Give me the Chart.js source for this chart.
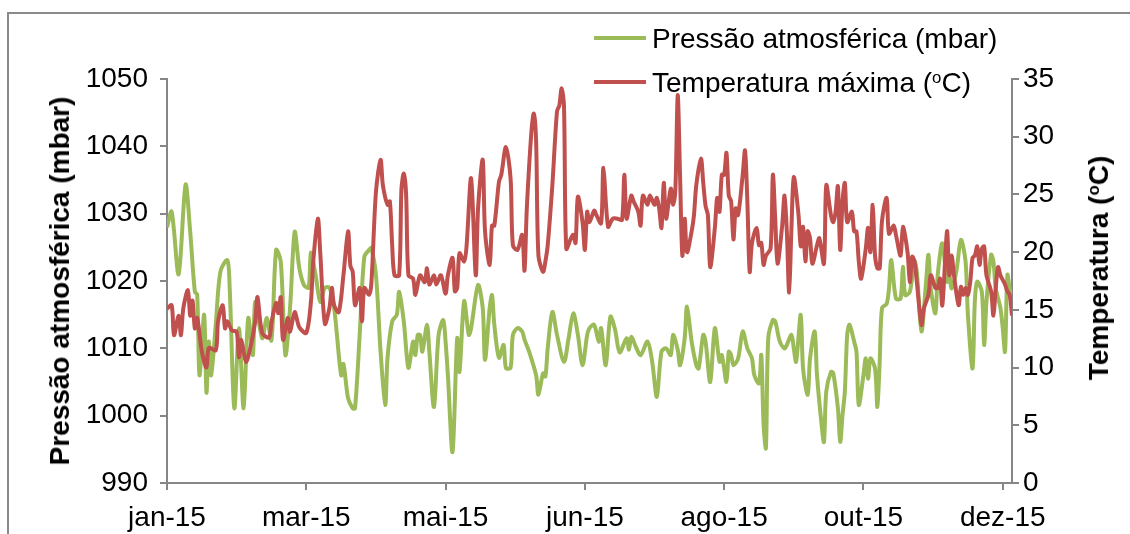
<!DOCTYPE html>
<html>
<head>
<meta charset="utf-8">
<script src="https://cdn.jsdelivr.net/npm/chart.js@4.4.1/dist/chart.umd.min.js"></script>
<style>
  html, body { margin: 0; padding: 0; background: #ffffff; }
  #wrap { position: relative; width: 1130px; height: 534px; overflow: hidden; font-family: "Liberation Sans", Arial, sans-serif; }
  #frame { position: absolute; left: 7px; top: 12px; width: 1140px; height: 600px; border: 2px solid #8a8a8a; box-sizing: border-box; }
  canvas { position: absolute; left: 0; top: 0; }
  .lg-line { position: absolute; height: 4px; width: 52px; left: 594px; }
  .lg-text { position: absolute; left: 652px; font-size: 28px; line-height: 28px; color: #000; white-space: nowrap; }
  .ax-title { position: absolute; font-size: 28px; font-weight: bold; line-height: 28px; white-space: nowrap; color: #000;
              transform: translate(-50%, -50%) rotate(-90deg); }
  sup { font-size: 60%; vertical-align: 0; position: relative; top: -0.55em; }
</style>
</head>
<body>
<div id="wrap">
  <div id="frame"></div>
  <canvas id="c" width="1130" height="534"></canvas>
  <div class="lg-line" style="top:36px;background:#9BBB59"></div>
  <div class="lg-text" style="top:25px">Pressão atmosférica (mbar)</div>
  <div class="lg-line" style="top:80px;background:#C0504D"></div>
  <div class="lg-text" style="top:69px">Temperatura máxima (<sup>o</sup>C)</div>
  <div class="ax-title" style="left:60px;top:281px">Pressão atmosférica (mbar)</div>
  <div class="ax-title" style="left:1101px;top:268px">Temperatura (<sup>o</sup>C)</div>
</div>
<script>
// ---- Data (day of year 2015, 0 = 1 Jan) ----
const tickDays = [0, 60, 120, 180, 240, 300, 360];
const tickLabels = ["jan-15", "mar-15", "mai-15", "jun-15", "ago-15", "out-15", "dez-15"];

const pressureDays = [0,2,5,8,10,12,13,14,16,17,18,19,21,23,26,27,29,31,33,35,37,38,41,43,45,47,49,51,53,55,57,59,61,62,64,66,68,70,72,75,76,78,80,81,83,85,87,88,90,92,94,95,97,99,100,102,104,106,107,108,109,110,112,113,115,117,119,120,121,123,125,126,128,130,131,134,136,137,139,140,141,143,145,146,148,149,151,153,154,156,159,160,162,163,164,166,168,171,173,175,177,179,181,182,184,186,187,189,191,193,195,198,199,200,202,204,207,209,211,213,215,217,218,220,221,223,224,226,228,229,231,232,234,236,238,239,241,242,243,244,246,248,250,252,253,255,256,257,258,259,261,262,264,266,267,269,270,271,273,274,276,277,279,280,282,283,284,286,287,289,290,291,292,293,294,296,297,298,300,301,302,303,305,306,307,308,310,311,312,314,316,317,318,320,322,323,325,327,328,329,331,332,334,336,337,338,340,342,344,345,347,348,349,351,352,353,355,356,357,359,360,361,362,363,364];
const pressureValues = [1028,1030.3,1021,1034.3,1027.3,1018.4,1018,1006,1015,1003.4,1011,1006,1013.5,1021.4,1023.1,1019,1001.1,1013,1001.1,1014.5,1009,1016.9,1011.5,1014.5,1011.2,1024.6,1022.9,1009,1016,1027.3,1021.9,1019.4,1019,1024.2,1020.9,1016.9,1019,1019,1016,1006,1007.7,1002.6,1001.1,1001.1,1012,1023.6,1024.6,1024.9,1020.9,1009.5,1001.6,1008.6,1014,1015,1018.4,1014,1007.1,1011,1009,1012,1012,1009.5,1013.5,1009.5,1001.3,1012,1014.2,1011,1006,994.6,1011.5,1006.5,1017,1012,1013,1019.4,1016,1008.3,1016,1017.9,1013.5,1008.6,1010.5,1007.1,1007.1,1012,1013,1012.5,1011.3,1009.5,1006,1003.1,1006.3,1005.8,1010,1015.4,1012,1008,1011.5,1015.2,1012,1007.5,1012,1013,1013.5,1011,1013,1007.5,1014.7,1012.8,1009.4,1011.5,1009.8,1011.7,1010.2,1009,1011,1008,1002.8,1009.5,1010,1009,1012,1009.8,1007.5,1011.5,1016.2,1011,1007.5,1007,1012,1011,1005,1013,1008,1009,1005,1009.5,1009,1007.5,1008.5,1012.5,1010,1008.5,1006,1004.8,1009,998.6,995.2,1011.5,1014.2,1014,1011,1010,1010.5,1012,1010,1008,1015,1007,1003.1,1008.5,1012.5,1006,998.6,996.1,1003.6,1006.5,1006.3,1001.1,996.1,1000.1,1003.6,1012,1013.5,1011,1009.5,1001.6,1006,1008.5,1005.5,1008.5,1007,1001.3,1008,1016,1016.6,1018.9,1023.1,1017.4,1017.4,1022.1,1017.9,1018.4,1022.9,1021.4,1012.5,1019.9,1023.9,1018.9,1015.2,1020.9,1025.6,1019.9,1020.9,1018.9,1021.4,1026.1,1022.9,1015,1007,1017,1019.9,1018.4,1010.5,1016.9,1023.9,1022.9,1018.9,1016,1013,1009.5,1020.9,1018.9,1016.9];

const tempDays = [0,2,3,5,6,7,9,10,11,12,13,15,17,18,21,22,24,25,26,28,30,31,32,34,36,38,39,41,44,45,47,48,49,50,52,53,55,57,60,62,63,65,66,68,70,71,72,74,76,78,79,80,81,83,84,85,87,88,90,92,93,95,96,97,98,100,101,102,103,104,106,107,109,111,112,113,115,116,118,120,121,123,124,125,126,128,129,131,133,134,136,137,139,140,141,143,144,146,148,149,151,153,154,155,157,158,159,160,162,163,164,166,168,169,170,171,172,174,175,176,177,179,180,181,182,184,185,187,188,190,192,194,196,197,198,200,201,203,204,205,207,208,210,211,212,213,214,215,217,218,219,220,221,222,223,224,226,227,228,230,231,232,233,234,236,237,238,239,240,241,242,243,244,245,246,248,249,250,251,252,254,255,256,257,258,260,261,262,263,265,266,267,268,269,270,272,273,274,275,276,277,278,280,281,283,284,286,287,288,289,290,291,292,293,295,296,297,298,299,301,302,303,304,305,306,307,308,310,311,313,314,316,317,319,320,321,322,323,325,326,328,329,331,332,333,334,336,337,338,339,341,342,343,344,345,346,347,348,349,350,351,352,353,355,356,357,358,359,361,362,363,364];
const tempValues = [15.1,15.4,12.8,14.5,12.8,15.1,16.7,14.5,15.8,13.4,14.3,11.4,10,11.7,11.5,14,15.4,13.4,14,13.2,13.1,10.9,12.4,10.5,11.8,14,16.1,13,12.6,13.9,15.6,14.7,16.1,12.4,14.3,13.1,14.8,13.5,13,15.7,19.2,22.9,20,13.8,15.2,16.9,15.4,14.8,18,21.8,18.8,18.3,15.4,16.9,14,16.9,16.3,17.2,25.2,28,25.8,24.1,24.4,20.6,18,18,25.5,26.8,25,18,17.7,16.3,18,17.4,18.6,17.2,18,17.2,18,16.4,18,19.5,16.6,16.9,19.9,19.2,20.4,26.4,18,23.8,28,21.8,18.9,22.3,22.3,26.1,26.7,29.1,26.4,20.6,20.2,21.5,18.4,23.8,30.5,32,29.6,19.7,18.3,19.2,20.6,25.8,32.2,32.7,34.2,32.7,20.3,21.2,21.5,20.8,24.8,22.6,20.2,23.5,22.6,23.6,23.2,22.5,27.3,22.2,22.9,22.9,22.8,26.7,22.9,24.9,24.4,23.5,22.3,24.9,24.1,24.9,24.1,24.7,23.8,22.1,26,22.9,25.5,24.1,25.5,33.6,26.7,19.7,22.9,20,21.8,23.2,25.8,28.1,26,24,23.2,18.7,22.1,24.7,23.5,26.7,26.7,28.6,24.9,24.4,21.1,23.8,23.2,26.7,28.8,24.4,18.3,20.8,22.1,20.6,20.8,18.9,19.7,20.3,26.7,22.9,19,22.3,24.9,21.8,16.5,22.1,26.5,23.3,20.5,22.2,19.2,21.8,21.2,19,20.6,21.2,19,25.8,23.2,22.6,23.5,25.7,20.2,24.4,26,22.6,23.5,21.8,21.8,19.2,17.7,20.3,22.1,20,24.1,19.7,18.6,18.6,22.7,24.7,21.6,22.3,21.5,19.7,22.2,20,17.4,19.6,19.2,17.4,13.7,15.1,16.3,18,16.9,16.9,17.7,15.4,21.8,18,19.7,18,15.4,17,16.3,16.9,16.3,17.4,19.5,19.7,20.5,18.9,20.3,20.5,18,16.6,14.5,16.9,18.7,18,17.2,16.6,16.3,14.5];

const pressureAxis = { min: 990, max: 1050, step: 10 };
const tempAxis = { min: 0, max: 35, step: 5 };

// ---- Chart ----
const toPoints = (xs, ys) => xs.map((d, i) => ({ x: d, y: ys[i] }));
const FONT = { family: '"Liberation Sans", Arial, sans-serif', size: 28 };
const AXIS_GREY = '#868686';

new Chart(document.getElementById('c'), {
  type: 'line',
  data: {
    datasets: [
      {
        label: 'Temperatura máxima (ºC)',
        data: toPoints(tempDays, tempValues),
        yAxisID: 'yT',
        borderColor: '#C0504D',
        borderWidth: 4,
        pointRadius: 0,
        tension: 0.3,
        fill: false
      },
      {
        label: 'Pressão atmosférica (mbar)',
        data: toPoints(pressureDays, pressureValues),
        yAxisID: 'yP',
        borderColor: '#9BBB59',
        borderWidth: 4,
        pointRadius: 0,
        tension: 0.3,
        fill: false
      }
    ]
  },
  options: {
    responsive: false,
    animation: false,
    devicePixelRatio: 1,
    layout: { padding: { top: 79, left: 0, right: 0, bottom: 0 } },
    plugins: { legend: { display: false }, tooltip: { enabled: false } },
    scales: {
      x: {
        type: 'linear',
        min: 0,
        max: 364,
        afterBuildTicks: (s) => { s.ticks = tickDays.map(v => ({ value: v })); },
        afterFit: (s) => { s.height = 51; },
        ticks: {
          font: FONT, color: '#000', padding: 11, maxRotation: 0, autoSkip: false,
          callback: (v) => { const i = tickDays.indexOf(v); return i >= 0 ? tickLabels[i] : ''; }
        },
        grid: { display: true, drawOnChartArea: false, drawTicks: true, tickLength: 7, color: AXIS_GREY, lineWidth: 2 },
        border: { display: true, color: AXIS_GREY, width: 2 }
      },
      yP: {
        position: 'left',
        min: pressureAxis.min, max: pressureAxis.max,
        afterFit: (s) => { s.width = 167; },
        ticks: { stepSize: pressureAxis.step, font: FONT, color: '#000', padding: 12,
                 callback: (v) => String(v) },
        grid: { display: true, drawOnChartArea: false, drawTicks: true, tickLength: 7, color: AXIS_GREY, lineWidth: 2 },
        border: { display: true, color: AXIS_GREY, width: 2 }
      },
      yT: {
        position: 'right',
        min: tempAxis.min, max: tempAxis.max,
        afterFit: (s) => { s.width = 118; },
        ticks: { stepSize: tempAxis.step, font: FONT, color: '#000', padding: 4,
                 callback: (v) => String(v) },
        grid: { display: true, drawOnChartArea: false, drawTicks: true, tickLength: 7, color: AXIS_GREY, lineWidth: 2 },
        border: { display: true, color: AXIS_GREY, width: 2 }
      }
    }
  }
});
</script>
</body>
</html>
